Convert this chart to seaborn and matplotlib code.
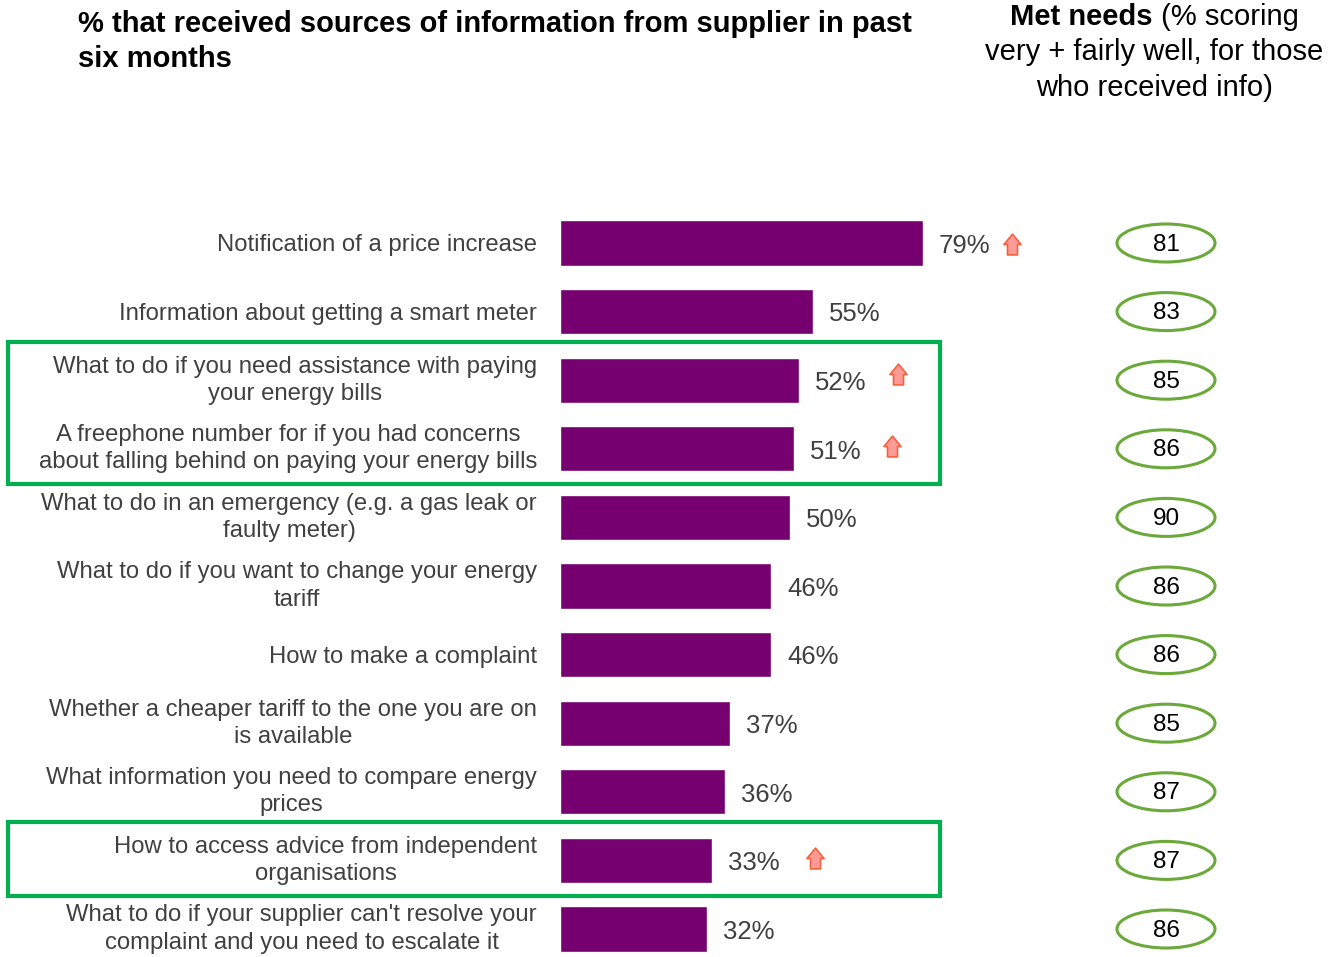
import matplotlib
matplotlib.use("Agg")
import matplotlib.pyplot as plt
import seaborn as sns
import pandas as pd
from matplotlib.path import Path
from matplotlib.patches import Ellipse, Rectangle

categories = [
    "Notification of a price increase",
    "Information about getting a smart meter",
    "What to do if you need assistance with paying\nyour energy bills",
    "A freephone number for if you had concerns\nabout falling behind on paying your energy bills",
    "What to do in an emergency (e.g. a gas leak or\nfaulty meter)",
    "What to do if you want to change your energy\ntariff",
    "How to make a complaint",
    "Whether a cheaper tariff to the one you are on\nis available",
    "What information you need to compare energy\nprices",
    "How to access advice from independent\norganisations",
    "What to do if your supplier can't resolve your\ncomplaint and you need to escalate it",
]
received_pct = [79, 55, 52, 51, 50, 46, 46, 37, 36, 33, 32]
met_needs = [81, 83, 85, 86, 90, 86, 86, 85, 87, 87, 86]
significant_rise = [True, False, True, True, False, False, False, False, False, True, False]
highlight_groups = [(2, 3), (9, 9)]

title_lines = ["% that received sources of information from supplier in past",
               "six months"]
met_bold = "Met needs"
met_rest = " (% scoring"
met_lines = ["very + fairly well, for those", "who received info)"]

W, H = 1343, 957
PX_PER_UNIT = 4.595   # horizontal pixels per percentage point
ROW_PX = 68.6         # vertical pixels per row
ROW0_Y = 243          # pixel y of first row centre
BAR_X0 = 560

# arrow placement next to each flagged bar: (gap after bar in % units, row shift)
ARROW_SHIFT = {0: (19.3, 0.02), 2: (21.6, -0.09), 3: (21.2, -0.04), 9: (22.6, -0.04)}

sns.set_style("white")
plt.rcParams["font.family"] = ["Liberation Sans", "DejaVu Sans"]

fig = plt.figure(figsize=(W / 100, H / 100), dpi=100)

ax_left = BAR_X0 / W
ax_width = (W - BAR_X0) / W
top_px = ROW0_Y - 0.5 * ROW_PX
ax = fig.add_axes([ax_left, 0, ax_width, 1 - top_px / H])

df = pd.DataFrame({"item": categories, "pct": received_pct})
sns.barplot(data=df, x="pct", y="item", orient="h", color="#770070",
            saturation=1, width=0.656, ax=ax)
ax.set_ylim((H - ROW0_Y) / ROW_PX, -0.5)
ax.set_xlim(0, (W - BAR_X0) / PX_PER_UNIT)

ax.set_xlabel("")
ax.set_ylabel("")
ax.set_xticks([])
ax.tick_params(axis="y", length=0, pad=16.5, labelsize=17.2, labelcolor="#404040")
for lbl in ax.get_yticklabels():
    lbl.set_multialignment("center")
    lbl.set_linespacing(1.3)
    if "\n" in lbl.get_text():
        lbl.set_verticalalignment("center")
sns.despine(ax=ax, left=True, bottom=True)

# value labels
for i, v in enumerate(received_pct):
    ax.annotate(f"{v}%", xy=(v, i), xytext=(11.5, -2), textcoords="offset points",
                ha="left", va="center", fontsize=18.5, color="#404040")

# up arrows for significant increases
arrow_path = Path([(0, 0.5), (0.41, 0.0), (0.24, 0.0), (0.24, -0.5),
                   (-0.24, -0.5), (-0.24, 0.0), (-0.41, 0.0), (0, 0.5)],
                  [Path.MOVETO] + [Path.LINETO] * 6 + [Path.CLOSEPOLY])
for i, (v, up) in enumerate(zip(received_pct, significant_rise)):
    if up:
        dx, dy = ARROW_SHIFT.get(i, (21.0, 0.0))
        ax.plot([v + dx], [i + dy], marker=arrow_path, markersize=15,
                markerfacecolor="#FF9B96", markeredgecolor="#F5603E",
                markeredgewidth=1.2, linestyle="none", clip_on=False)

# met-needs ellipses
ell_x = (1166 - BAR_X0) / PX_PER_UNIT
for i, m in enumerate(met_needs):
    ax.add_patch(Ellipse((ell_x, i), width=98 / PX_PER_UNIT, height=38 / ROW_PX,
                         facecolor="white", edgecolor="#6AA93A", linewidth=2.2,
                         clip_on=False))
    ax.annotate(str(m), xy=(ell_x, i), xytext=(0, -1.2), textcoords="offset points",
                ha="center", va="center", fontsize=17.5, color="black")

# highlight boxes
box_x0 = (8 - BAR_X0) / PX_PER_UNIT
box_x1 = (940 - BAR_X0) / PX_PER_UNIT
for r0, r1 in highlight_groups:
    y0 = r0 - 0.56
    y1 = r1 + 0.52
    ax.add_patch(Rectangle((box_x0, y0), box_x1 - box_x0, y1 - y0, fill=False,
                           edgecolor="#00B050", linewidth=3, clip_on=False,
                           joinstyle="miter"))

# headings
for k, line in enumerate(title_lines):
    fig.text(78 / W, 1 - (32 + 35 * k) / H, line, ha="left", va="baseline",
             fontsize=21, fontweight="bold", color="black")
fig.text(1153 / W, 1 - 25 / H, met_bold, ha="right", va="baseline", fontsize=21,
         fontweight="bold", color="black")
fig.text(1153 / W, 1 - 25 / H, met_rest, ha="left", va="baseline", fontsize=21,
         color="black")
for k, line in enumerate(met_lines):
    fig.text(1154 / W, 1 - (60 + 35.5 * k) / H, line, ha="center", va="baseline",
             fontsize=21, color="black")

fig.savefig("out.png", dpi=100)
